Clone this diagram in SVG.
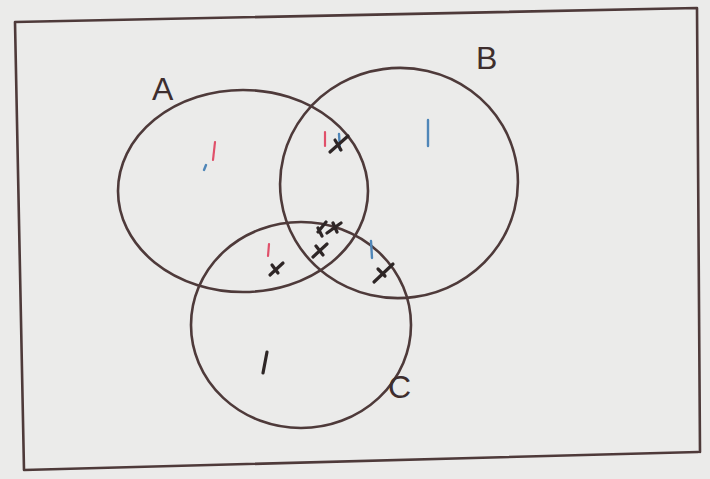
<svg xmlns="http://www.w3.org/2000/svg" width="710" height="479" viewBox="0 0 710 479">
<style>
.ln{fill:none;stroke:#4e3a3a;stroke-width:2.6;stroke-linecap:round;stroke-linejoin:round}
.tk{fill:none;stroke:#2e2626;stroke-width:3.2;stroke-linecap:round}
.rd{fill:none;stroke:#e0506a;stroke-width:2.2;stroke-linecap:round}
.bl{fill:none;stroke:#4f86b8;stroke-width:2.4;stroke-linecap:round}
.lb{font-family:"Liberation Sans",Arial,sans-serif;font-size:32px;fill:#3e2e2e}
</style>
<rect width="710" height="479" fill="#ebebea"/>
<g id="frame"><path class="ln" d="M15,22 L697,8 L700,452 M698,452 L24,470 L15,22"/></g>
<g id="A">
<ellipse class="ln" cx="243" cy="191" rx="125" ry="101"/>
<text class="lb" x="152" y="100">A</text>
</g>
<g id="B">
<ellipse class="ln" cx="399" cy="183" rx="119" ry="115" transform="rotate(-8 399 183)"/>
<text class="lb" x="476" y="69">B</text>
</g>
<g id="C">
<ellipse class="ln" cx="301" cy="325" rx="110" ry="103"/>
<text class="lb" x="388" y="398">C</text>
</g>
<g id="tallies">
<path class="rd" d="M215,142 L213,160"/>
<path class="bl" d="M206,165 L204,170" stroke-width="1.5"/>
<path class="rd" d="M325,132 L325,146"/>
<path class="bl" d="M339,134 L340,150"/>
<path class="tk" d="M330,152 L348,136 M335,140 L341,150"/>
<path class="bl" d="M428,120 L428,146"/>
<path class="tk" d="M318,232 L326,222 M327,233 L341,223 M318,228 L322,236 M333,223 L337,232 M313,257 L327,244 M316,246 L323,255"/>
<path class="rd" d="M269,244 L268,256"/>
<path class="tk" d="M270,275 L283,263 M272,265 L278,273"/>
<path class="bl" d="M371,241 L372,258"/>
<path class="tk" d="M374,282 L393,264 M378,269 L385,276"/>
<path class="tk" d="M267,352 L263,373"/>
</g>
</svg>
